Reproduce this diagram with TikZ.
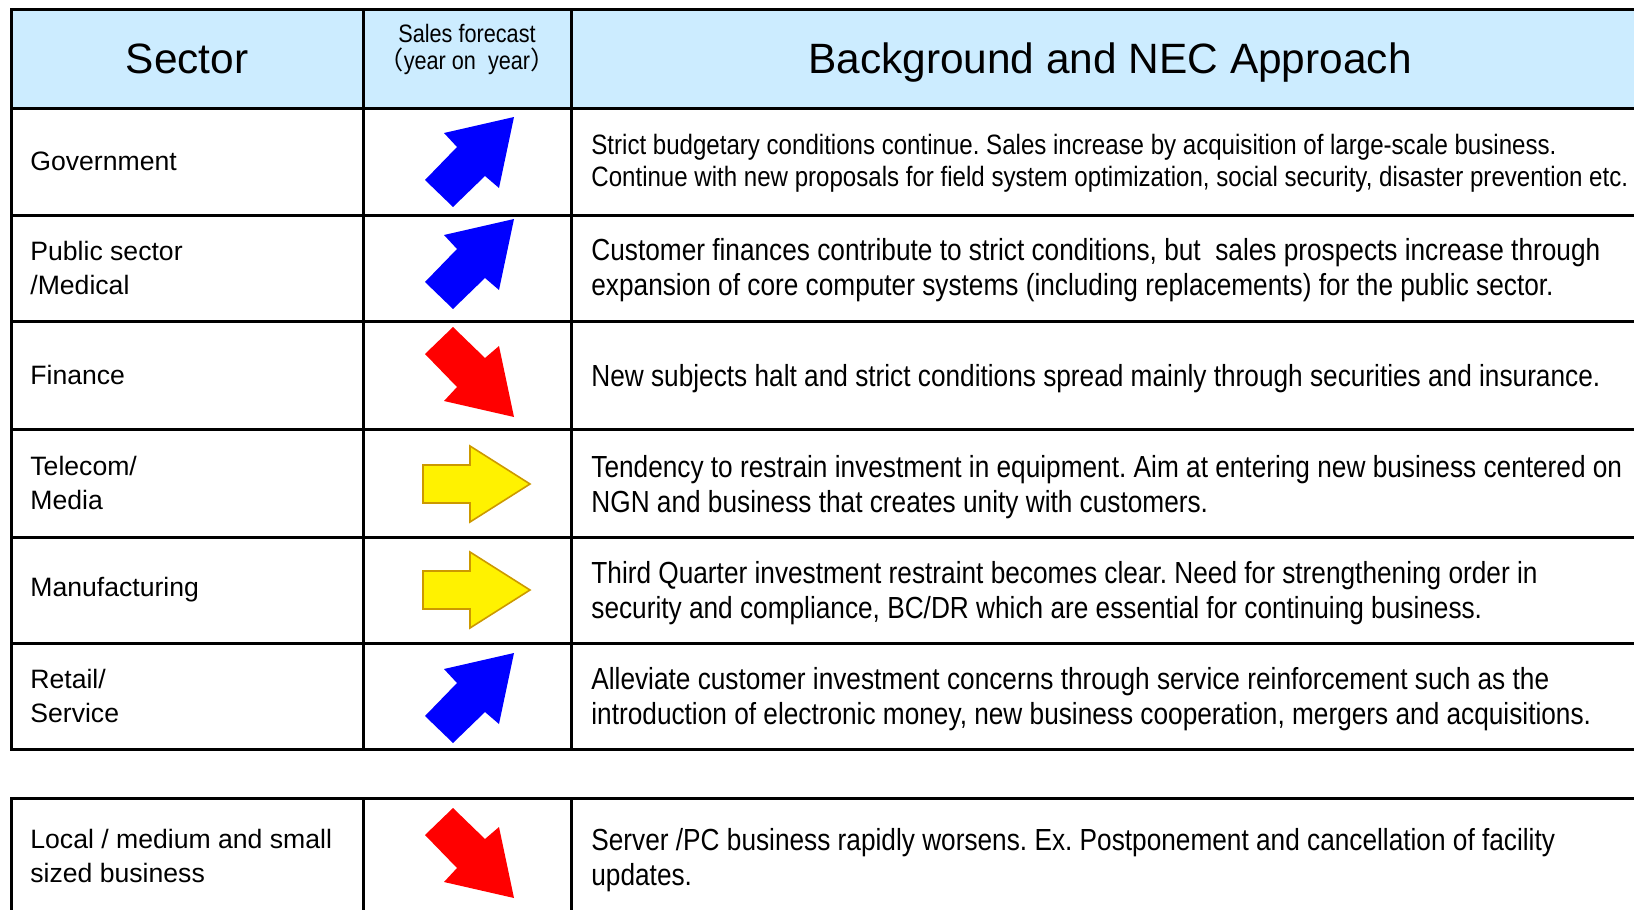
\documentclass[tikz,border=0pt]{standalone}
\usepackage{fontspec}
\setmainfont{Liberation Sans}
\newfontfamily\narrowfont{Liberation Sans}[FakeStretch=0.86]
\newfontfamily\cjkfont{Noto Sans CJK JP}
\definecolor{headblue}{RGB}{204,236,255}
\definecolor{arrowedge}{RGB}{204,153,0}
\frenchspacing
\begin{document}
\begin{tikzpicture}
        [x=0.5pt,y=-0.5pt,%%%%%%%%%%%%%%%%%%%%%%%%%%%%%%
        grid/.style={black,line width=1.5pt},
        head/.style={anchor=base,font=\fontsize{21.2}{24}\selectfont},
        sector/.style={anchor=west,align=left,inner sep=0pt,font=\fontsize{13.3}{17}\selectfont},
        detail/.style={anchor=west,align=left,inner sep=0pt,font=\narrowfont\fontsize{15.25}{17.4}\selectfont},
        up/.style={fill=blue},
        down/.style={fill=red},
        flat/.style={fill=yellow,draw=arrowedge,line width=0.8pt},
        ]%%%%%%%%%%%%%%%%%%%%%%%%%%%%%%
        \useasboundingbox (0,0) rectangle (1634,910);
        \clip (0,0) rectangle (1634,910);

        \fill[headblue] (11.5,9) rectangle (1650,108);
        \draw[grid] (11.5,9) rectangle (1650,749);
        \draw[grid] (11.5,798) rectangle (1650,915);
        \foreach \y in {108,215,321,429,537,643}
          \draw[grid] (11.5,\y) -- (1650,\y);
        \foreach \x in {363,571}{
          \draw[grid] (\x,9) -- (\x,749);
          \draw[grid] (\x,798) -- (\x,915);
        }

        \node[head] (sector) at (187,73) {Sector};
        \node[align=center,inner sep=0pt,font=\narrowfont\fontsize{12.6}{13.5}\selectfont] (forecast) at (467,49)
          {Sales forecast\\{\cjkfont （}year on\hspace{6pt}year{\cjkfont ）}};
        \node[head] (approach) at (1110,73) {Background and NEC Approach};

        \node[sector] (gov) at (30,161.5) {Government};
        \node[sector] (pub) at (30,268) {Public sector\\/Medical};
        \node[sector] (fin) at (30,375) {Finance};
        \node[sector] (tel) at (30,483) {Telecom/\\Media};
        \node[sector] (man) at (30,590) {Manufacturing};
        \node[sector] (ret) at (30,696) {Retail/\\Service};
        \node[sector] (loc) at (30,856) {Local / medium and small\\sized business};

        \node[detail,font=\narrowfont\fontsize{14}{16}\selectfont] (govtxt) at (591,163) {Strict budgetary conditions continue. Sales increase by acquisition of large-scale business.\\Continue with new proposals for field system optimization, social security, disaster prevention etc.};
        \node[detail] (pubtxt) at (591,270) {Customer finances contribute to strict conditions, but\ \ sales prospects increase through\\expansion of core computer systems (including replacements) for the public sector.};
        \node[detail] (fintxt) at (591,379) {New subjects halt and strict conditions spread mainly through securities and insurance.};
        \node[detail] (teltxt) at (591,487) {Tendency to restrain investment in equipment. Aim at entering new business centered on\\NGN and business that creates unity with customers.};
        \node[detail] (mantxt) at (591,593) {Third Quarter investment restraint becomes clear. Need for strengthening order in\\security and compliance, BC/DR which are essential for continuing business.};
        \node[detail] (rettxt) at (591,699) {Alleviate customer investment concerns through service reinforcement such as the\\introduction of electronic money, new business cooperation, mergers and acquisitions.};
        \node[detail] (loctxt) at (591,860) {Server /PC business rapidly worsens. Ex. Postponement and cancellation of facility\\updates.};

        % forecast arrows
        \foreach \y in {162,264,698}
          \fill[up,shift={(470,\y)}] (44,-45) -- (-26,-29) -- (-13,-15) -- (-45,18) -- (-17,45) -- (15,14) -- (29,26) -- cycle;
        \foreach \y in {372,853}
          \fill[down,shift={(470,\y)}] (44,45) -- (-26,29) -- (-13,15) -- (-45,-18) -- (-17,-45) -- (15,-14) -- (29,-26) -- cycle;
        \foreach \y in {484,590}
          \draw[flat,shift={(470,\y)}] (-47,-19) -- (0,-19) -- (0,-38) -- (60,0) -- (0,38) -- (0,19) -- (-47,19) -- cycle;

      \end{tikzpicture}
\end{document}
